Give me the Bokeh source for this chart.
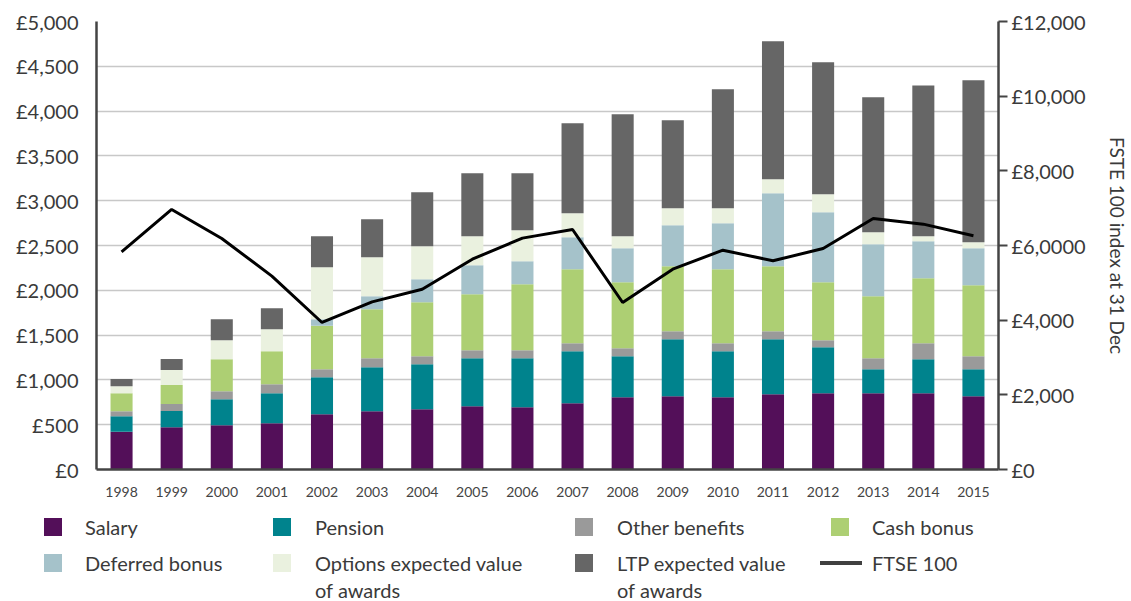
from bokeh.plotting import figure
from bokeh.models import Range1d, LinearAxis, FixedTicker, ColumnDataSource, FactorRange, Div
from bokeh.layouts import column
from bokeh.embed import file_html
from bokeh.resources import INLINE

# ---------------- data ----------------
years = [str(y) for y in range(1998, 2016)]
salary = [420, 472, 495, 517, 618, 651, 673, 707, 696, 740, 807, 818, 807, 841, 852, 852, 852, 818]
pension = [175, 180, 290, 335, 412, 491, 503, 535, 546, 581, 458, 637, 514, 614, 513, 268, 379, 302]
other_benefits = [55, 78, 89, 100, 90, 100, 89, 90, 90, 89, 89, 89, 89, 89, 78, 122, 179, 145]
cash_bonus = [200, 212, 357, 369, 483, 547, 602, 625, 736, 826, 737, 725, 826, 725, 648, 692, 725, 792]
deferred_bonus = [0, 0, 0, 0, 75, 145, 257, 323, 257, 357, 379, 458, 513, 815, 781, 581, 413, 413]
options_value = [80, 168, 212, 245, 580, 436, 368, 324, 346, 268, 134, 189, 167, 156, 201, 134, 56, 67]
ltp_value = [80, 122, 235, 234, 346, 424, 603, 703, 636, 1004, 1362, 983, 1328, 1540, 1473, 1506, 1681, 1808]
ftse100 = [5830, 6965, 6188, 5179, 3938, 4491, 4830, 5634, 6197, 6429, 4473, 5366, 5875, 5590, 5920, 6723, 6572, 6259]

left_ticks = [0, 500, 1000, 1500, 2000, 2500, 3000, 3500, 4000, 4500, 5000]
left_tick_labels = ["£0", "£500", "£1,000", "£1,500", "£2,000", "£2,500", "£3,000",
                    "£3,500", "£4,000", "£4,500", "£5,000"]
right_ticks = [0, 2000, 4000, 6000, 8000, 10000, 12000]
right_tick_labels = ["£0", "£2,000", "£4,000", "£6,0000", "£8,000", "£10,000", "£12,000"]

series_names = ["Salary", "Pension", "Other benefits", "Cash bonus",
                "Deferred bonus", "Options expected value of awards", "LTP expected value of awards"]
series_keys = ["salary", "pension", "other", "cash", "deferred", "options", "ltp"]
series_colors = ["#530F59", "#00838D", "#9A9A9A", "#ADCF73", "#A5C2CA", "#EAF1DF", "#666666"]
line_name = "FTSE 100"

FONT = "Lato"
TXT = "#3a3a3a"

src = ColumnDataSource(dict(year=years, salary=salary, pension=pension, other=other_benefits,
                            cash=cash_bonus, deferred=deferred_bonus, options=options_value,
                            ltp=ltp_value, ftse=ftse100))

FL, FT, FW, FH = 96, 21, 902, 448          # frame left/top/width/height in page pixels
FIG_H = 505
p = figure(x_range=FactorRange(factors=years), y_range=Range1d(0, 5000),
           frame_width=FW, frame_height=FH,
           min_border_left=FL, min_border_top=FT, min_border_bottom=FIG_H - FT - FH, min_border_right=0,
           output_backend="svg", toolbar_location=None)
p.extra_y_ranges = {"ftse": Range1d(0, 12000)}

p.vbar_stack(series_keys, x="year", width=0.44, color=series_colors, line_color=None, source=src)
p.line(x="year", y="ftse", y_range_name="ftse", source=src, line_color="black", line_width=3)

p.outline_line_color = None
p.xgrid.grid_line_color = None
p.ygrid.ticker = FixedTicker(ticks=left_ticks)
p.ygrid.grid_line_color = "#c8c8c8"
p.ygrid.grid_line_width = 1.5

ya = p.yaxis[0]
ya.ticker = FixedTicker(ticks=left_ticks)
ya.major_label_overrides = dict(zip(left_ticks, left_tick_labels))
ya.major_tick_out = 0
ya.major_tick_in = 0
ya.minor_tick_out = 0
ya.minor_tick_in = 0
ya.axis_line_color = "#444444"
ya.axis_line_width = 2.5
ya.major_label_text_font = FONT
ya.major_label_text_font_size = "20px"
ya.major_label_text_color = TXT
ya.major_label_standoff = 18

xa = p.xaxis[0]
xa.major_tick_out = 0
xa.major_tick_in = 0
xa.axis_line_color = "#444444"
xa.axis_line_width = 2.5
xa.major_label_text_font = FONT
xa.major_label_text_font_size = "14px"
xa.major_label_text_color = "#444444"
xa.major_label_standoff = 17

ra = LinearAxis(y_range_name="ftse", ticker=FixedTicker(ticks=right_ticks),
                axis_label="FSTE 100 index at 31 Dec")
ra.major_label_overrides = dict(zip(right_ticks, right_tick_labels))
ra.major_tick_out = 9
ra.major_tick_in = 0
ra.minor_tick_out = 0
ra.minor_tick_in = 0
ra.major_tick_line_color = "#444444"
ra.major_tick_line_width = 2
ra.axis_line_color = "#444444"
ra.axis_line_width = 2.5
ra.major_label_text_font = FONT
ra.major_label_text_font_size = "20px"
ra.major_label_text_color = TXT
ra.major_label_standoff = 4
ra.axis_label_text_font = FONT
ra.axis_label_text_font_size = "19px"
ra.axis_label_text_font_style = "normal"
ra.axis_label_text_color = TXT
ra.axis_label_standoff = 17
p.add_layout(ra, "right")

# ---------------- legend (HTML block under the chart) ----------------
LEG_H = 601 - FIG_H
col_sq = [44, 273, 575, 831]      # page x of swatch left edges
col_tx = [85, 315, 617, 872]      # page x of label starts
row_y = [527, 563]                # page y of row centres
second_line_y = 590
slots = [(0, 0), (0, 1), (0, 2), (0, 3), (1, 0), (1, 1), (1, 2)]
SW = 18
LINE_H = 22

parts = []


def text_at(x, cy, t):
    top = cy - FIG_H - LINE_H / 2
    return (f'<div style="position:absolute;left:{x}px;top:{top:.1f}px;height:{LINE_H}px;'
            f'line-height:{LINE_H}px;white-space:nowrap;">{t}</div>')


for (r, c), name, color in zip(slots, series_names, series_colors):
    cy = row_y[r]
    parts.append(f'<div style="position:absolute;left:{col_sq[c]}px;top:{cy - FIG_H - SW / 2:.1f}px;'
                 f'width:{SW}px;height:{SW}px;background:{color};"></div>')
    parts.append(text_at(col_tx[c], cy, name.replace(" of awards", "")))
    if name.endswith(" of awards"):
        parts.append(text_at(col_tx[c], second_line_y, "of awards"))

parts.append(f'<div style="position:absolute;left:820px;top:{row_y[1] - FIG_H - 2}px;'
             f'width:42px;height:4px;background:#404040;"></div>')
parts.append(text_at(col_tx[3], row_y[1], line_name))

legend_html = (f'<div style="position:relative;width:1131px;height:{LEG_H}px;'
               f'font-family:{FONT},sans-serif;font-size:20px;color:{TXT};">' + "".join(parts) + '</div>')
legend = Div(text=legend_html, width=1131, height=LEG_H, margin=0)

layout = column(p, legend, spacing=0)
open("out.html", "w").write(file_html(layout, INLINE))
